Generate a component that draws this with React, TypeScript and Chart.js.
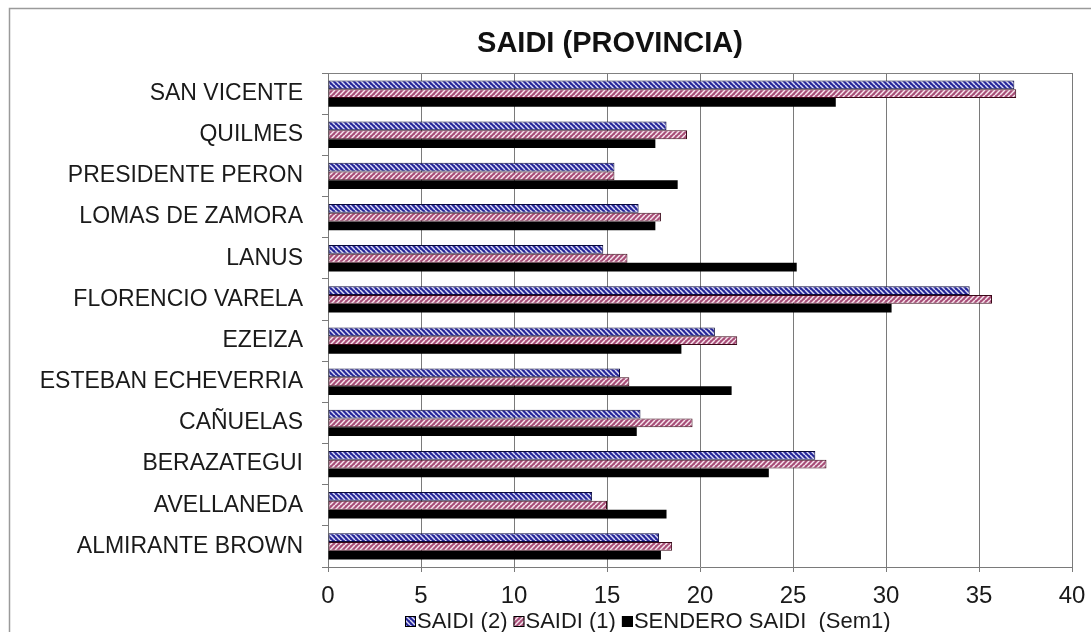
import React, { useEffect, useRef } from "react";
import { Chart, registerables } from "chart.js";

Chart.register(...registerables);

const categories = [
  "SAN VICENTE",
  "QUILMES",
  "PRESIDENTE PERON",
  "LOMAS DE ZAMORA",
  "LANUS",
  "FLORENCIO VARELA",
  "EZEIZA",
  "ESTEBAN ECHEVERRIA",
  "CAÑUELAS",
  "BERAZATEGUI",
  "AVELLANEDA",
  "ALMIRANTE BROWN",
];

const saidi2 = [36.9, 18.2, 15.4, 16.7, 14.8, 34.5, 20.8, 15.7, 16.8, 26.2, 14.2, 17.8];
const saidi1 = [37.0, 19.3, 15.4, 17.9, 16.1, 35.7, 22.0, 16.2, 19.6, 26.8, 15.0, 18.5];
const sendero = [27.3, 17.6, 18.8, 17.6, 25.2, 30.3, 19.0, 21.7, 16.6, 23.7, 18.2, 17.9];

const seriesNames = ["SAIDI (2)", "SAIDI (1)", "SENDERO SAIDI  (Sem1)"];
const xTicks = { min: 0, max: 40, step: 5 };
const titleText = "SAIDI (PROVINCIA)";

const FONT = "'Liberation Sans', Arial, sans-serif";

function makePattern(bg: string, fg: string, dir: "/" | "\\"): CanvasPattern | string {
  const s = 5;
  const c = document.createElement("canvas");
  c.width = s;
  c.height = s;
  const g = c.getContext("2d");
  if (!g) return bg;
  g.fillStyle = bg;
  g.fillRect(0, 0, s, s);
  g.strokeStyle = fg;
  g.lineWidth = 1.5;
  for (const k of [-s, 0, s]) {
    g.beginPath();
    if (dir === "/") {
      g.moveTo(k, s);
      g.lineTo(k + s, 0);
    } else {
      g.moveTo(k, 0);
      g.lineTo(k + s, s);
    }
    g.stroke();
  }
  const p = g.createPattern(c, "repeat");
  return p || bg;
}

export default function App() {
  const ref = useRef<HTMLCanvasElement>(null);

  useEffect(() => {
    if (!ref.current) return;
    const bluePat = makePattern("#26269a", "#dcdcf4", "\\");
    const pinkPat = makePattern("#a84e78", "#f6e6ee", "/");
    const fills = [bluePat, pinkPat, "#000000"];
    const borders = ["#0a0a3a", "#3a0818", "#000000"];

    const decor = {
      id: "decor",
      beforeDraw(chart: any) {
        const ctx = chart.ctx;
        ctx.save();
        ctx.fillStyle = "#ffffff";
        ctx.fillRect(0, 0, chart.width, chart.height);
        ctx.strokeStyle = "#9a9a9a";
        ctx.lineWidth = 1.5;
        ctx.beginPath();
        ctx.moveTo(9.5, chart.height);
        ctx.lineTo(9.5, 8.5);
        ctx.lineTo(chart.width, 8.5);
        ctx.stroke();
        ctx.restore();
      },
      afterDatasetsDraw(chart: any) {
        const ctx = chart.ctx;
        const a = chart.chartArea;
        ctx.save();
        ctx.strokeStyle = "#808080";
        ctx.lineWidth = 1;
        ctx.beginPath();
        ctx.moveTo(a.left, Math.round(a.top) + 0.5);
        ctx.lineTo(a.right, Math.round(a.top) + 0.5);
        ctx.stroke();
        ctx.restore();
      },
      afterDraw(chart: any) {
        const ctx = chart.ctx;
        ctx.save();
        ctx.fillStyle = "#111111";
        ctx.font = `bold 29px ${FONT}`;
        ctx.textAlign = "center";
        ctx.textBaseline = "middle";
        ctx.fillText(titleText, 610, 44);
        ctx.font = `22px ${FONT}`;
        ctx.textAlign = "left";
        let x = 405;
        const y = 621;
        seriesNames.forEach((name, i) => {
          ctx.fillStyle = fills[i] as any;
          ctx.fillRect(x, y - 5, 11, 11);
          ctx.strokeStyle = "#000";
          ctx.lineWidth = 1;
          ctx.strokeRect(x + 0.5, y - 4.5, 10, 10);
          ctx.fillStyle = "#1a1a1a";
          ctx.fillText(name, x + 12, y + 1);
          x += 12 + ctx.measureText(name).width + 6;
        });
        ctx.restore();
      },
    };

    const chart = new Chart(ref.current, {
      type: "bar",
      data: {
        labels: categories,
        datasets: [saidi2, saidi1, sendero].map((d, i) => ({
          label: seriesNames[i],
          data: d,
          backgroundColor: fills[i] as any,
          borderColor: borders[i],
          borderWidth: i === 2 ? 0 : 1,
          borderSkipped: false,
          barPercentage: 1,
          categoryPercentage: 0.64,
        })),
      },
      options: {
        indexAxis: "y",
        animation: false,
        responsive: false,
        layout: { padding: { left: 0, top: 73, right: 19, bottom: 0 } },
        plugins: {
          legend: { display: false },
          title: { display: false },
          tooltip: { enabled: false },
        },
        scales: {
          x: {
            min: xTicks.min,
            max: xTicks.max,
            ticks: {
              stepSize: xTicks.step,
              color: "#1a1a1a",
              font: { family: FONT, size: 24 },
              padding: 10,
            },
            grid: {
              color: "#7a7a7a",
              lineWidth: 1,
              tickLength: 5,
              drawTicks: true,
            },
            border: { color: "#7a7a7a", width: 1 },
            afterFit: (s: any) => {
              s.height = 65;
              s.paddingLeft = 0;
              s.paddingRight = 0;
            },
          },
          y: {
            ticks: {
              color: "#1a1a1a",
              font: { family: FONT, size: 23 },
              padding: 19,
              autoSkip: false,
            },
            grid: {
              drawOnChartArea: false,
              drawTicks: true,
              tickLength: 6,
              color: "#7a7a7a",
              offset: true,
            },
            border: { color: "#7a7a7a", width: 1 },
            afterFit: (s: any) => {
              s.width = 328;
              s.paddingTop = 0;
              s.paddingBottom = 0;
            },
          },
        },
      },
      plugins: [decor],
    } as any);
    return () => chart.destroy();
  }, []);

  return (
    <div style={{ position: "absolute", left: 0, top: 0, width: 1091, height: 632, background: "#fff" }}>
      <canvas ref={ref} width={1091} height={632} style={{ display: "block" }} />
    </div>
  );
}
